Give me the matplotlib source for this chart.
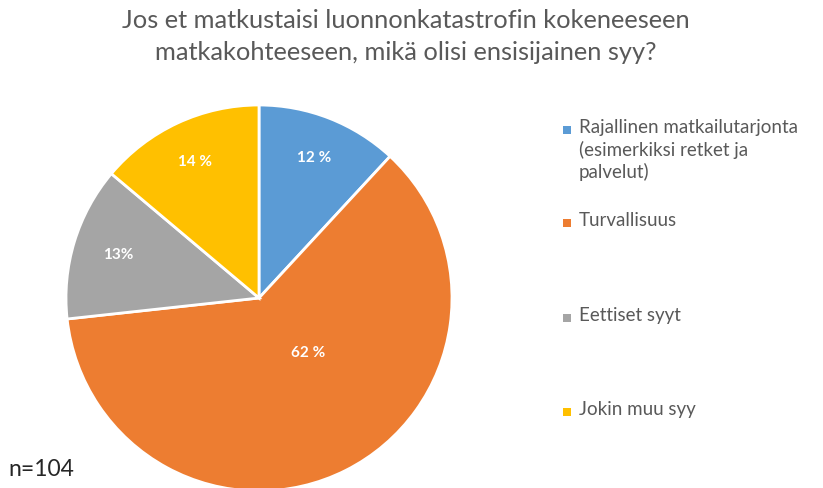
import numpy as np
import matplotlib.pyplot as plt
from matplotlib.patches import Rectangle

plt.rcParams['font.family'] = ['Lato', 'DejaVu Sans']

# data
categories = ["Rajallinen matkailutarjonta\n(esimerkiksi retket ja\npalvelut)",
              "Turvallisuus", "Eettiset syyt", "Jokin muu syy"]
shares = [12, 62, 13, 14]
pct_labels = ["12 %", "62 %", "13%", "14 %"]
colors = ["#5B9BD5", "#ED7D31", "#A5A5A5", "#FFC000"]
title = "Jos et matkustaisi luonnonkatastrofin kokeneeseen\nmatkakohteeseen, mikä olisi ensisijainen syy?"
note = "n=104"

fig = plt.figure(figsize=(8.23, 4.88), dpi=100)
ax = fig.add_axes([66 / 823, -3 / 488, 386 / 823, 386 / 488])

wedges, _ = ax.pie(shares, colors=colors, startangle=90, counterclock=False,
                   wedgeprops=dict(edgecolor="white", linewidth=2))
ax.set_xlim(-1, 1)
ax.set_ylim(-1, 1)
ax.set_aspect("equal")

# Excel puts the big slice label off its middle
label_r = [0.78, 0.38, 0.76, 0.78]
angle_shift = [0, 15, 0, 0]
for w, lab, r, sh in zip(wedges, pct_labels, label_r, angle_shift):
    mid = np.radians((w.theta1 + w.theta2) / 2 + sh)
    ax.text(r * np.cos(mid), r * np.sin(mid), lab, color="white",
            fontsize=11, fontweight="bold", ha="center", va="center")

fig.text(406 / 823, 1 - 9 / 488, title, ha="center", va="top", fontsize=18.3,
         color="#595959", linespacing=1.45)
fig.text(8 / 823, 1 - 469 / 488, note, ha="left", va="center", fontsize=16.5,
         color="#262626")

# legend, entries spaced evenly like Excel does
leg_y = [130, 223, 318, 412]
for lab, col, y in zip(categories, colors, leg_y):
    fig.patches.append(Rectangle((563 / 823, 1 - (y + 4) / 488), 8 / 823, 8 / 488,
                                 transform=fig.transFigure, facecolor=col,
                                 edgecolor="none"))
    fig.text(579 / 823, 1 - (y - 11) / 488, lab, ha="left", va="top",
             fontsize=13.5, color="#595959", linespacing=1.3)

fig.savefig("out.png", dpi=100)
